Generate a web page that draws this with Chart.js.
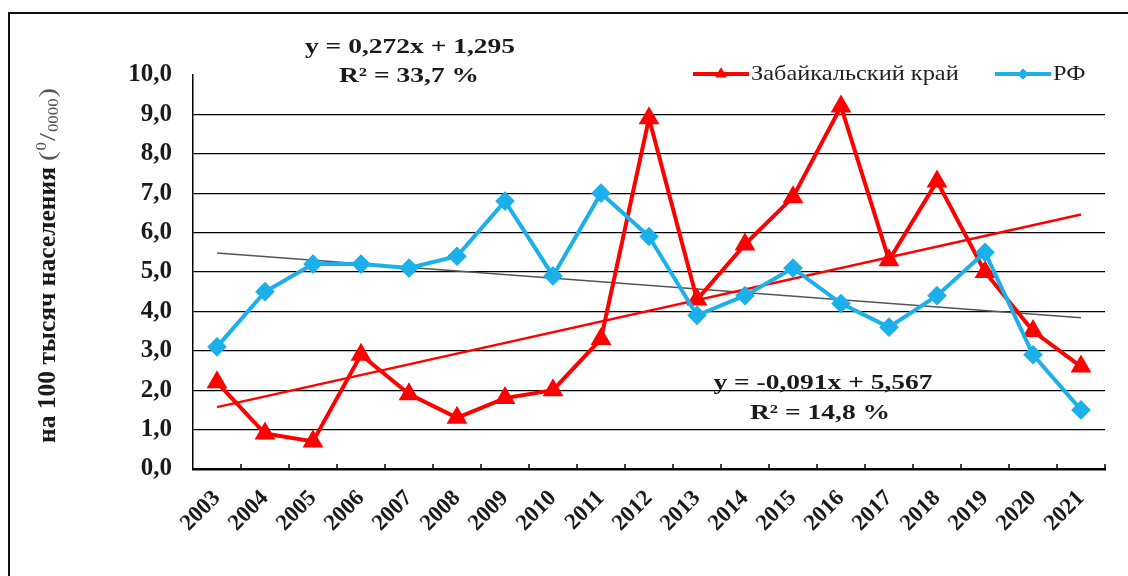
<!DOCTYPE html>
<html>
<head>
<meta charset="utf-8">
<script src="https://cdn.jsdelivr.net/npm/chart.js@4.4.1/dist/chart.umd.min.js"></script>
<style>
  html, body { margin: 0; padding: 0; background: #fff; }
  #wrap { position: relative; width: 1128px; height: 576px; overflow: hidden; }
  #frame { position: absolute; left: 8px; top: 12px; width: 1200px; height: 700px;
           border-left: 2px solid #111; border-top: 2px solid #111; }
  canvas { position: absolute; left: 0; top: 0; }
</style>
</head>
<body>
<div id="wrap">
  <div id="frame"></div>
  <canvas id="rateChart" width="1128" height="576"></canvas>
</div>
<script>
// ---------- DATA ----------
const years = ["2003", "2004", "2005", "2006", "2007", "2008", "2009", "2010", "2011", "2012",
               "2013", "2014", "2015", "2016", "2017", "2018", "2019", "2020", "2021"];
const zabValues = [2.2, 0.9, 0.7, 2.9, 1.9, 1.3, 1.8, 2.0, 3.3, 8.9, 4.3, 5.7, 6.9, 9.2, 5.3, 7.3, 5.0, 3.5, 2.6];
const rfValues = [3.1, 4.5, 5.2, 5.2, 5.1, 5.4, 6.8, 4.9, 7.0, 5.9, 3.9, 4.4, 5.1, 4.2, 3.6, 4.4, 5.5, 2.9, 1.5];
// trend lines: value at first and last year
const zabTrendEnds = [1.57, 6.46];
const rfTrendEnds = [5.48, 3.84];

const seriesNames = ["Забайкальский край", "РФ"];
const zabEquation = ["y = 0,272x + 1,295", "R² = 33,7 %"];
const rfEquation = ["y = -0,091x + 5,567", "R² = 14,8 %"];
const yTitleMain = "на 100 тысяч населения";
// unit "(0/0000)": pieces with [text, size, baseline shift]
const yTitleUnit = [["(", 24, 0], ["0", 14, -7], ["/", 24, 0], ["0000", 14, 5], [")", 24, 0]];

const RED = "#ff0000";
const BLUE = "#1cb0ea";
const SERIF = "'Liberation Serif', 'Times New Roman', serif";

function trendData(ends) {
    const arr = years.map(() => null);
    arr[0] = ends[0];
    arr[arr.length - 1] = ends[1];
    return arr;
}

// text a bit wider than the font, like the scanned original
function wideText(ctx, text, x, y, font, sx, align) {
    ctx.save();
    ctx.font = font;
    ctx.textBaseline = "middle";
    ctx.textAlign = "left";
    const w = ctx.measureText(text).width * sx;
    let x0 = x;
    if (align === "center") x0 = x - w / 2;
    ctx.translate(x0, y);
    ctx.scale(sx, 1);
    ctx.fillText(text, 0, 0);
    ctx.restore();
    return w;
}

// ---------- EXTRA DRAWING ----------
const extras = {
    id: "extras",
    beforeDatasetsDraw(chart) {
        const ctx = chart.ctx;
        const area = chart.chartArea;
        // small inner ticks on x axis
        ctx.save();
        ctx.strokeStyle = "#000";
        ctx.lineWidth = 1.5;
        const step = (area.right - area.left) / years.length;
        for (let i = 1; i <= years.length; i++) {
            const x = Math.round(area.left + i * step);
            ctx.beginPath();
            ctx.moveTo(x, area.bottom - 5);
            ctx.lineTo(x, area.bottom);
            ctx.stroke();
        }
        ctx.restore();
    },
    afterDraw(chart) {
        const ctx = chart.ctx;
        ctx.save();
        ctx.fillStyle = "#1a1a1a";
        const eqFont = "bold 22px " + SERIF;
        wideText(ctx, zabEquation[0], 410, 47, eqFont, 1.25, "center");
        wideText(ctx, zabEquation[1], 409, 76, eqFont, 1.25, "center");
        wideText(ctx, rfEquation[0], 823, 383, eqFont, 1.25, "center");
        wideText(ctx, rfEquation[1], 820, 413, eqFont, 1.25, "center");

        // y axis title
        ctx.save();
        ctx.translate(49, 443);
        ctx.rotate(-Math.PI / 2);
        let w = wideText(ctx, yTitleMain, 0, 0, "bold 25px " + SERIF, 1.02, "left") + 6;
        ctx.fillStyle = "#555";
        yTitleUnit.forEach(p => {
            w += wideText(ctx, p[0], w, p[2], p[1] + "px " + SERIF, 1.2, "left") + 1;
        });
        ctx.restore();

        // legend
        const items = [
            { x: 693, color: RED, style: "triangle", r: 6, text: seriesNames[0] },
            { x: 995, color: BLUE, style: "rectRot", r: 5, text: seriesNames[1] }
        ];
        const ly = 74;
        items.forEach(it => {
            ctx.save();
            ctx.strokeStyle = it.color;
            ctx.fillStyle = it.color;
            ctx.lineWidth = 4;
            ctx.beginPath();
            ctx.moveTo(it.x, ly);
            ctx.lineTo(it.x + 56, ly);
            ctx.stroke();
            ctx.lineWidth = 1;
            Chart.helpers.drawPoint(ctx, { pointStyle: it.style, radius: it.r, borderWidth: 1, rotation: 0 },
                it.x + 28, ly);
            ctx.fillStyle = "#222";
            wideText(ctx, it.text, it.x + 58, ly, "21px " + SERIF, 1.16, "left");
            ctx.restore();
        });
        ctx.restore();
    }
};

// ---------- CHART ----------
const ctx = document.getElementById("rateChart").getContext("2d");
new Chart(ctx, {
    type: "line",
    data: {
        labels: years,
        datasets: [
            {
                label: seriesNames[1],
                data: rfValues,
                borderColor: BLUE,
                backgroundColor: BLUE,
                borderWidth: 4,
                pointStyle: "rectRot",
                pointRadius: 7,
                pointHoverRadius: 7,
                tension: 0,
                order: 1
            },
            {
                label: seriesNames[0],
                data: zabValues,
                borderColor: RED,
                backgroundColor: RED,
                borderWidth: 4,
                pointStyle: "triangle",
                pointRadius: 8,
                pointHoverRadius: 8,
                tension: 0,
                order: 2
            },
            {
                label: "trend1",
                data: trendData(zabTrendEnds),
                borderColor: RED,
                borderWidth: 2.5,
                pointRadius: 0,
                spanGaps: true,
                order: 3
            },
            {
                label: "trend2",
                data: trendData(rfTrendEnds),
                borderColor: "#555",
                borderWidth: 1.5,
                pointRadius: 0,
                spanGaps: true,
                order: 4
            }
        ]
    },
    options: {
        responsive: false,
        animation: false,
        layout: { padding: { left: 0, right: 23, top: 75, bottom: 0 } },
        plugins: {
            legend: { display: false },
            tooltip: { enabled: false }
        },
        scales: {
            x: {
                offset: true,
                grid: { display: false },
                border: { display: true, color: "#000", width: 2.5 },
                ticks: {
                    autoSkip: false,
                    minRotation: 45,
                    maxRotation: 45,
                    padding: 8,
                    color: "#1a1a1a",
                    font: { family: SERIF, size: 23, weight: "bold" }
                },
                afterFit: s => { s.height = 107; }
            },
            y: {
                min: 0,
                max: 10,
                ticks: {
                    stepSize: 1,
                    padding: 21,
                    color: "#1a1a1a",
                    font: { family: SERIF, size: 25, weight: "bold" },
                    callback: v => v.toFixed(1).replace(".", ",")
                },
                grid: {
                    drawTicks: false,
                    lineWidth: 1.2,
                    color: c => (c.tick && c.tick.value === 10 ? "rgba(0,0,0,0)" : "#000")
                },
                border: { display: true, color: "#000", width: 1.5 },
                afterFit: s => { s.width = 193; }
            }
        }
    },
    plugins: [extras]
});
</script>
</body>
</html>
